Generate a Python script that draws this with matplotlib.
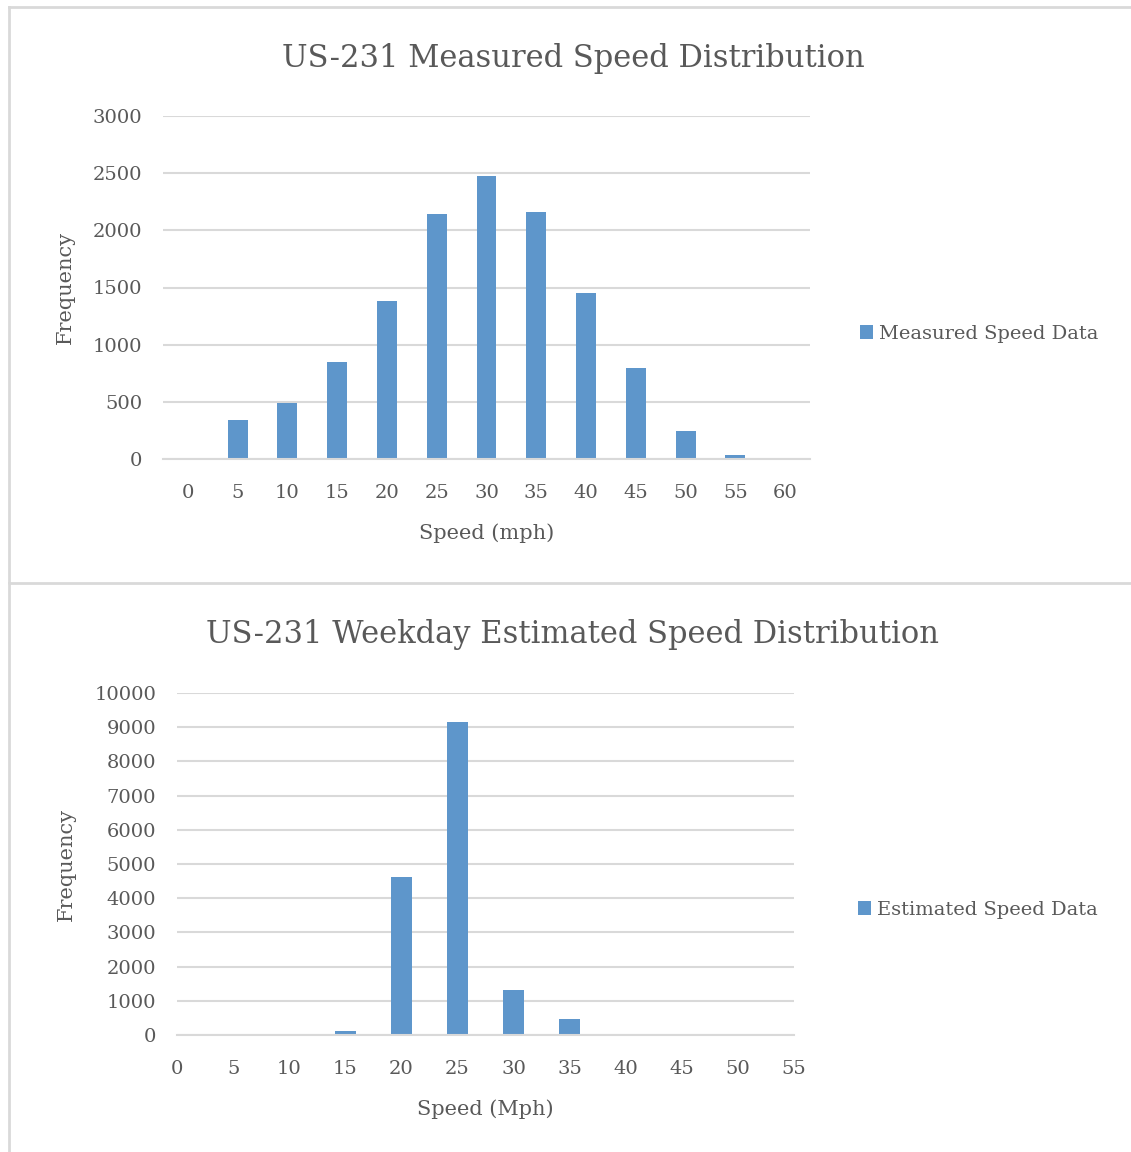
import matplotlib

matplotlib.use("Agg")
import matplotlib.pyplot as plt  # noqa: E402
from matplotlib.lines import Line2D  # noqa: E402

# top chart: measured speeds (mph bins)
MEAS_SPEEDS = [0, 5, 10, 15, 20, 25, 30, 35, 40, 45, 50, 55, 60]
MEAS_FREQ = [0, 345, 490, 850, 1380, 2145, 2475, 2160, 1455, 798, 248, 38, 8]

# bottom chart: weekday estimated speeds
EST_SPEEDS = [0, 5, 10, 15, 20, 25, 30, 35, 40, 45, 50, 55]
EST_FREQ = [0, 0, 0, 120, 4620, 9150, 1330, 480, 0, 0, 0, 0]

BAR = "#5E96CB"
TXT = "#595959"
GRID = "#D9D9D9"
FONT = "DejaVu Serif"

W, H = 1131, 1152
plt.rcParams["font.family"] = FONT


def px_axes(fig, x0, y0, x1, y1):
    """Axes from pixel box (top-left origin)."""
    return fig.add_axes([x0 / W, 1 - y1 / H, (x1 - x0) / W, (y1 - y0) / H])


def style(ax, ymax, ystep):
    ax.set_ylim(0, ymax)
    ax.set_yticks(range(0, ymax + 1, ystep))
    ax.grid(axis="y", color=GRID, lw=1.5)
    ax.set_axisbelow(True)
    for s in ("top", "right", "left"):
        ax.spines[s].set_visible(False)
    ax.spines["bottom"].set_color(GRID)
    ax.spines["bottom"].set_linewidth(1.5)
    ax.tick_params(length=0, labelsize=14, labelcolor=TXT)
    ax.tick_params(axis="x", pad=18)
    ax.tick_params(axis="y", pad=15)


fig = plt.figure(figsize=(W / 100, H / 100), dpi=100)

# chart frames
for xs, ys in [([9, 9, W], [H - 7, H - 583, H - 583]), ([9, W], [H - 7, H - 7]),
               ([9, 9], [H - 583, 0])]:
    fig.add_artist(Line2D([x / W for x in xs], [y / H for y in ys], color=GRID, lw=2))

# --- top chart
ax1 = px_axes(fig, 163, 116, 810, 459)
pos1 = list(range(len(MEAS_SPEEDS)))
b1 = ax1.bar(pos1, MEAS_FREQ, width=0.4, color=BAR, label="Measured Speed Data")
ax1.set_xlim(-0.5, len(MEAS_SPEEDS) - 0.5)
ax1.set_xticks(pos1, [str(s) for s in MEAS_SPEEDS])
style(ax1, 3000, 500)
ax1.set_xlabel("Speed (mph)", fontsize=15, color=TXT, labelpad=15)
ax1.set_ylabel("Frequency", fontsize=15, color=TXT, labelpad=13)
fig.text(573 / W, 1 - 58 / H, "US-231 Measured Speed Distribution", ha="center",
         va="center", fontsize=22, color=TXT)
ax1.legend(handles=[b1], loc="center left", bbox_to_anchor=(842 / W, 1 - 334 / H),
           bbox_transform=fig.transFigure, frameon=False, fontsize=14,
           labelcolor=TXT, handlelength=0.7, handleheight=0.7, handletextpad=0.3)

# --- bottom chart
ax2 = px_axes(fig, 177, 693, 794, 1035)
pos2 = list(range(len(EST_SPEEDS)))
b2 = ax2.bar(pos2, EST_FREQ, width=0.38, color=BAR, label="Estimated Speed Data")
ax2.set_xlim(0, len(EST_SPEEDS) - 1)
ax2.set_xticks(pos2, [str(s) for s in EST_SPEEDS])
style(ax2, 10000, 1000)
ax2.set_xlabel("Speed (Mph)", fontsize=15, color=TXT, labelpad=15)
ax2.set_ylabel("Frequency", fontsize=15, color=TXT, labelpad=13)
fig.text(573 / W, 1 - 634 / H, "US-231 Weekday Estimated Speed Distribution",
         ha="center", va="center", fontsize=22, color=TXT)
ax2.legend(handles=[b2], loc="center left", bbox_to_anchor=(840 / W, 1 - 910 / H),
           bbox_transform=fig.transFigure, frameon=False, fontsize=14,
           labelcolor=TXT, handlelength=0.7, handleheight=0.7, handletextpad=0.3)

fig.savefig("out.png", dpi=100)
